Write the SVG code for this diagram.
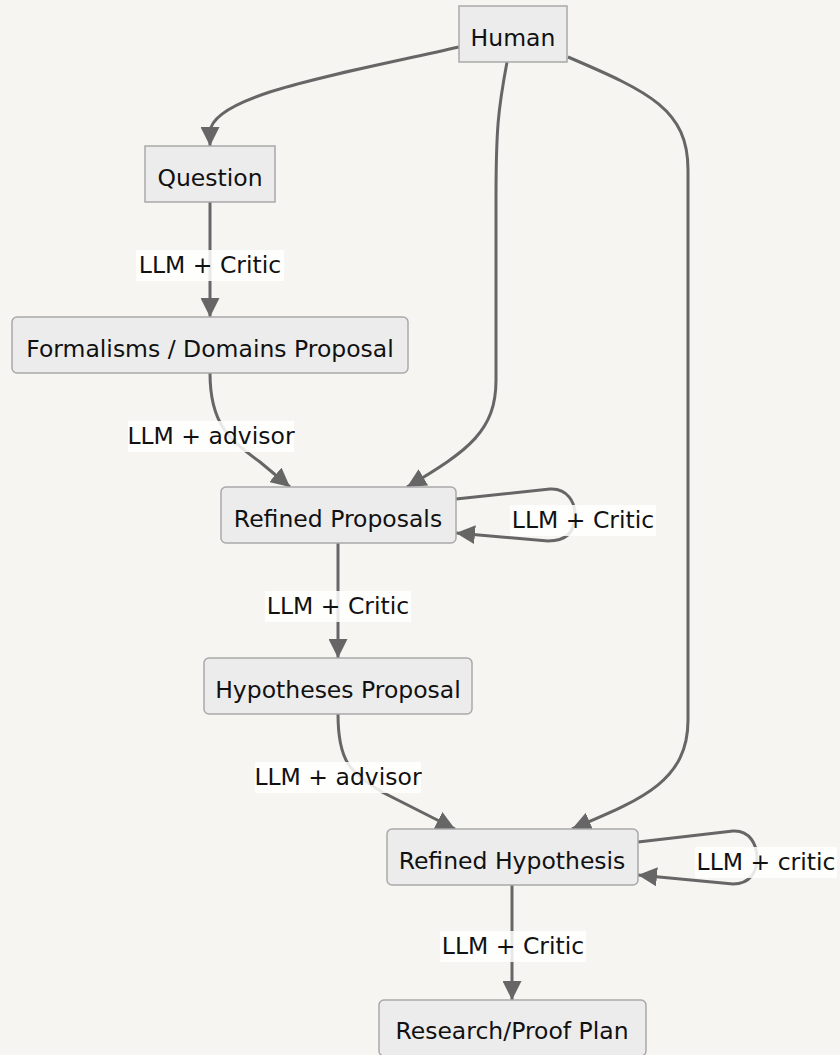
<svg xmlns="http://www.w3.org/2000/svg" width="840" height="1055" viewBox="0 0 840 1055">
  <style>
    .node rect { fill: #ececec; stroke: #a9a9a9; stroke-width: 1.5; }
    .node text, .label text { font-family: "DejaVu Sans", "Liberation Sans", sans-serif; font-size: 23.5px; fill: #111; text-anchor: middle; dominant-baseline: central; }
    .edge { fill: none; stroke: #666; stroke-width: 3; }
    .label rect { fill: #ffffff; fill-opacity: 0.85; }
  </style>
  <defs>
    <marker id="arrow" viewBox="0 0 10 10" refX="10" refY="5" markerUnits="userSpaceOnUse" markerWidth="19" markerHeight="19" orient="auto">
      <path d="M0,0 L10,5 L0,10 z" fill="#666"/>
    </marker>
  </defs>
  <rect width="840" height="1055" fill="#f6f5f2"/>

  <g id="connectors">
    <path class="edge" marker-end="url(#arrow)" d="M459,47 C340,74 212,95 210,132 L210,146"/>
    <path class="edge" marker-end="url(#arrow)" d="M507,62 C498,110 496,130 496,200 L496,380 C496,430 470,450 407,487"/>
    <path class="edge" marker-end="url(#arrow)" d="M568,57 C650,92 688,110 688,170 L688,720 C688,782 640,800 572,829"/>
    <path class="edge" marker-end="url(#arrow)" d="M210,202 L210,317"/>
    <path class="edge" marker-end="url(#arrow)" d="M210,373 C210,425 230,440 260,462 L290,487"/>
    <path class="edge" marker-end="url(#arrow)" d="M456,499 L550,489 C568,488 575,503 575,515 C575,530 568,541 548,541 L456,533"/>
    <path class="edge" marker-end="url(#arrow)" d="M338,543 L338,658"/>
    <path class="edge" marker-end="url(#arrow)" d="M338,714 C338,762 350,772 382,792 L455,829"/>
    <path class="edge" marker-end="url(#arrow)" d="M638,842 L733,831 C750,830 757,845 757,858 C757,872 750,884 733,884 L638,875"/>
    <path class="edge" marker-end="url(#arrow)" d="M512,885 L512,1000"/>
  </g>

  <g id="edge-labels">
    <g class="label"><rect x="136" y="250" width="148" height="31"/><text x="210" y="265">LLM + Critic</text></g>
    <g class="label"><rect x="128" y="421" width="166" height="31"/><text x="211" y="436">LLM + advisor</text></g>
    <g class="label"><rect x="510" y="505" width="146" height="31"/><text x="583" y="520">LLM + Critic</text></g>
    <g class="label"><rect x="265" y="591" width="146" height="31"/><text x="338" y="606">LLM + Critic</text></g>
    <g class="label"><rect x="255" y="762" width="166" height="31"/><text x="338" y="777">LLM + advisor</text></g>
    <g class="label"><rect x="695" y="847" width="142" height="31"/><text x="766" y="862">LLM + critic</text></g>
    <g class="label"><rect x="440" y="931" width="146" height="31"/><text x="513" y="946">LLM + Critic</text></g>
  </g>

  <g id="human" class="node"><rect x="459" y="6" width="108" height="56"/><text x="513" y="38">Human</text></g>
  <g id="question" class="node"><rect x="145" y="146" width="130" height="56"/><text x="210" y="178">Question</text></g>
  <g id="formalisms" class="node"><rect x="12" y="317" width="396" height="56" rx="5"/><text x="210" y="349">Formalisms / Domains Proposal</text></g>
  <g id="refined-proposals" class="node"><rect x="221" y="487" width="235" height="56" rx="5"/><text x="338" y="519">Refined Proposals</text></g>
  <g id="hypotheses" class="node"><rect x="204" y="658" width="268" height="56" rx="5"/><text x="338" y="690">Hypotheses Proposal</text></g>
  <g id="refined-hypothesis" class="node"><rect x="387" y="829" width="251" height="56" rx="5"/><text x="512" y="861">Refined Hypothesis</text></g>
  <g id="plan" class="node"><rect x="379" y="1000" width="267" height="56" rx="5"/><text x="512" y="1031">Research/Proof Plan</text></g>
</svg>
